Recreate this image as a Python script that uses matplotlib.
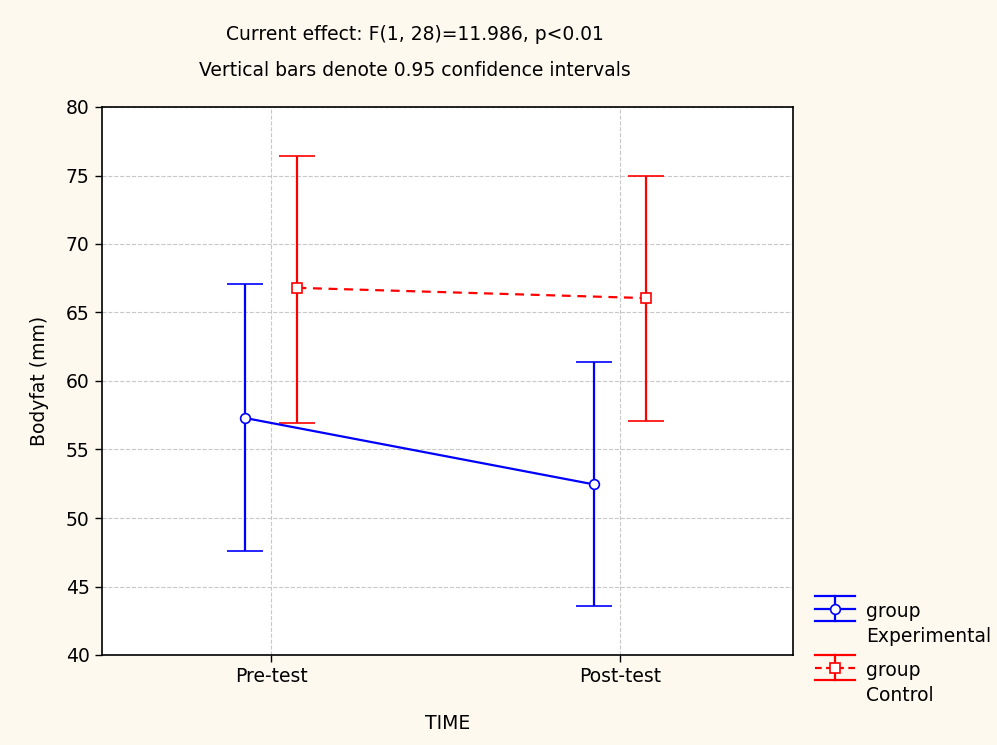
import matplotlib.pyplot as plt
from matplotlib.lines import Line2D
import numpy as np

plt.rcParams['font.family'] = ['DejaVu Sans']

# data
times = ['Pre-test', 'Post-test']
exp_mean = [57.3, 52.45]
exp_low = [47.6, 43.6]
exp_high = [67.1, 61.4]
ctl_mean = [66.8, 66.05]
ctl_low = [56.9, 57.1]
ctl_high = [76.4, 75.0]
groups = ['group\nExperimental', 'group\nControl']

W, H = 997, 745
bg = '#FDF9EF'
blue, red = '#0000FF', '#FF0000'
fig = plt.figure(figsize=(W / 100, H / 100), dpi=100, facecolor=bg)
ax = fig.add_axes([102 / W, 1 - 655 / H, 691 / W, 548 / H])
ax.set_facecolor('white')

x = np.arange(len(times))
off = 0.075

e_err = [np.array(exp_mean) - np.array(exp_low), np.array(exp_high) - np.array(exp_mean)]
c_err = [np.array(ctl_mean) - np.array(ctl_low), np.array(ctl_high) - np.array(ctl_mean)]

ax.errorbar(x - off, exp_mean, yerr=e_err, color=blue, lw=1.6, capsize=13,
            capthick=1.6, marker='o', ms=7, mfc='white', mec=blue, mew=1.2, zorder=3)
ax.errorbar(x + off, ctl_mean, yerr=c_err, color=red, lw=1.6, ls=(0, (4, 3)), capsize=13,
            capthick=1.6, marker='s', ms=7, mfc='white', mec=red, mew=1.2, zorder=3)

ax.set_xlim(-0.485, 1.495)
ax.set_ylim(40, 80)
ax.set_xticks(x)
ax.set_xticklabels(times)
ax.set_yticks(range(40, 81, 5))
ax.tick_params(labelsize=13.5, length=5, width=1, colors='black', pad=4)
ax.grid(True, ls='--', color='#C8C8C8', lw=0.8, zorder=0)
ax.set_axisbelow(True)
for s in ax.spines.values():
    s.set_linewidth(1.2)

ax.set_xlabel('TIME', fontsize=13.5, labelpad=20)
ax.set_ylabel('Bodyfat (mm)', fontsize=13.5, labelpad=12)

fig.text(415 / W, 1 - 35 / H, 'Current effect: F(1, 28)=11.986, p<0.01',
         ha='center', va='center', fontsize=13.5)
fig.text(415 / W, 1 - 71 / H, 'Vertical bars denote 0.95 confidence intervals',
         ha='center', va='center', fontsize=13.5)


# legend drawn by hand to get the wide-cap errorbar symbols
def fx(px):
    return px / W


def fy(py):
    return 1 - py / H


def legend_item(yc, color, ls, marker, label):
    kw = dict(transform=fig.transFigure, color=color, lw=1.6)
    fig.add_artist(Line2D([fx(815), fx(855)], [fy(yc - 13), fy(yc - 13)], **kw))
    fig.add_artist(Line2D([fx(815), fx(855)], [fy(yc + 12), fy(yc + 12)], **kw))
    fig.add_artist(Line2D([fx(835), fx(835)], [fy(yc - 13), fy(yc + 12)], **kw))
    fig.add_artist(Line2D([fx(815), fx(855)], [fy(yc), fy(yc)], ls=ls, **kw))
    fig.add_artist(Line2D([fx(835)], [fy(yc)], transform=fig.transFigure, ls='none',
                          marker=marker, ms=7, mfc='white', mec=color, mew=1.2))
    fig.text(fx(866), fy(yc + 15), label, ha='left', va='center', fontsize=13.5,
             linespacing=1.45)


legend_item(609, blue, '-', 'o', groups[0])
legend_item(668, red, (0, (3, 2)), 's', groups[1])

fig.savefig('out.png', dpi=100, facecolor=bg)
